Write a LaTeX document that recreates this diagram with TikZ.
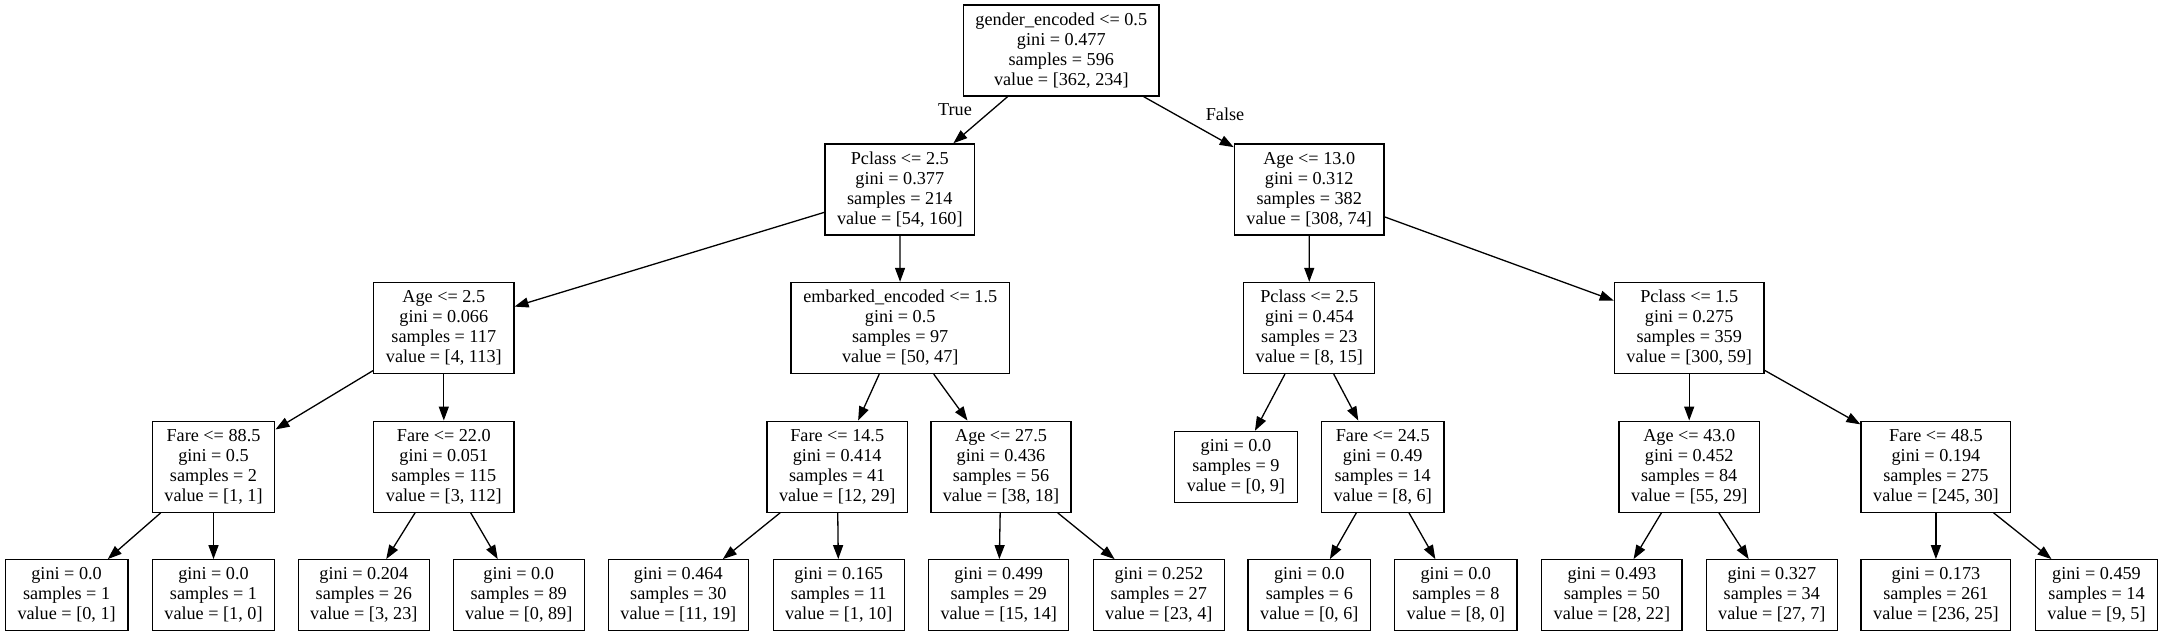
\documentclass[tikz,border=0pt]{standalone}
\usepackage{fontspec}
\setmainfont{Liberation Serif}
\usetikzlibrary{arrows.meta}
\begin{document}
\begin{tikzpicture}[x=1pt,y=-1pt,
  box/.style={draw=black, line width=1.3pt, rectangle, inner sep=0pt, align=center,
    font=\fontsize{18.2}{20}\selectfont, minimum height=91pt},
  leaf/.style={box, minimum height=70.7pt},
  wA/.style={minimum width=122.6pt},
  wB/.style={minimum width=131pt},
  wC/.style={minimum width=140.2pt},
  wD/.style={minimum width=149.7pt},
  conn/.style={draw=black, line width=1.3pt, -{Triangle[length=14pt,width=10pt]}},
  lbl/.style={font=\fontsize{18.2}{20}\selectfont, inner sep=0pt}]
\useasboundingbox (0,0) rectangle (2163,636);
% level 0
\node[box, minimum width=195.3pt] (root) at (1061.3,50.5) {gender\_encoded <= 0.5\\gini = 0.477\\samples = 596\\value = [362, 234]};
% level 1
\node[box, wD] (n1) at (899.8,189.4) {Pclass <= 2.5\\gini = 0.377\\samples = 214\\value = [54, 160]};
\node[box, wD] (n2) at (1309.2,189.4) {Age <= 13.0\\gini = 0.312\\samples = 382\\value = [308, 74]};
% level 2
\node[box, wC] (n3) at (443.8,328) {Age <= 2.5\\gini = 0.066\\samples = 117\\value = [4, 113]};
\node[box, minimum width=218.3pt] (n4) at (900.2,328) {embarked\_encoded <= 1.5\\gini = 0.5\\samples = 97\\value = [50, 47]};
\node[box, wB] (n5) at (1309.3,328) {Pclass <= 2.5\\gini = 0.454\\samples = 23\\value = [8, 15]};
\node[box, wD] (n6) at (1689.2,328) {Pclass <= 1.5\\gini = 0.275\\samples = 359\\value = [300, 59]};
% level 3
\node[box, wA] (n7) at (213.5,466.7) {Fare <= 88.5\\gini = 0.5\\samples = 2\\value = [1, 1]};
\node[box, wC] (n8) at (443.8,466.7) {Fare <= 22.0\\gini = 0.051\\samples = 115\\value = [3, 112]};
\node[box, wC] (n9) at (837.2,466.7) {Fare <= 14.5\\gini = 0.414\\samples = 41\\value = [12, 29]};
\node[box, wC] (n10) at (1001,466.7) {Age <= 27.5\\gini = 0.436\\samples = 56\\value = [38, 18]};
\node[leaf, wA] (n11) at (1235.9,466.8) {gini = 0.0\\samples = 9\\value = [0, 9]};
\node[box, wA] (n12) at (1382.7,466.7) {Fare <= 24.5\\gini = 0.49\\samples = 14\\value = [8, 6]};
\node[box, wC] (n13) at (1689.2,466.7) {Age <= 43.0\\gini = 0.452\\samples = 84\\value = [55, 29]};
\node[box, wD] (n14) at (1935.9,466.7) {Fare <= 48.5\\gini = 0.194\\samples = 275\\value = [245, 30]};
% level 4
\node[leaf, wA] (l1) at (66.6,595.1) {gini = 0.0\\samples = 1\\value = [0, 1]};
\node[leaf, wA] (l2) at (213.5,595.1) {gini = 0.0\\samples = 1\\value = [1, 0]};
\node[leaf, wB] (l3) at (363.8,595.1) {gini = 0.204\\samples = 26\\value = [3, 23]};
\node[leaf, wB] (l4) at (518.7,595.1) {gini = 0.0\\samples = 89\\value = [0, 89]};
\node[leaf, wC] (l5) at (678.3,595.1) {gini = 0.464\\samples = 30\\value = [11, 19]};
\node[leaf, wB] (l6) at (838.7,595.1) {gini = 0.165\\samples = 11\\value = [1, 10]};
\node[leaf, wC] (l7) at (998.7,595.1) {gini = 0.499\\samples = 29\\value = [15, 14]};
\node[leaf, wB] (l8) at (1158.8,595.1) {gini = 0.252\\samples = 27\\value = [23, 4]};
\node[leaf, wA] (l9) at (1309.3,595.1) {gini = 0.0\\samples = 6\\value = [0, 6]};
\node[leaf, wA] (l10) at (1455.8,595.1) {gini = 0.0\\samples = 8\\value = [8, 0]};
\node[leaf, wC] (l11) at (1611.9,595.1) {gini = 0.493\\samples = 50\\value = [28, 22]};
\node[leaf, wB] (l12) at (1771.8,595.1) {gini = 0.327\\samples = 34\\value = [27, 7]};
\node[leaf, wD] (l13) at (1935.9,595.1) {gini = 0.173\\samples = 261\\value = [236, 25]};
\node[leaf, wA] (l14) at (2096.5,595.1) {gini = 0.459\\samples = 14\\value = [9, 5]};
% edge labels
\node[lbl] (tlab) at (955,109.3) {True};
\node[lbl] (flab) at (1225,114.3) {False};
% connectors
\draw[conn] (root) -- (n1);
\draw[conn] (root) -- (n2);
\draw[conn] (n1) -- (n3);
\draw[conn] (n1) -- (n4);
\draw[conn] (n2) -- (n5);
\draw[conn] (n2) -- (n6);
\draw[conn] (n3) -- (n7);
\draw[conn] (n3) -- (n8);
\draw[conn] (n4) -- (n9);
\draw[conn] (n4) -- (n10);
\draw[conn] (n5) -- (n11);
\draw[conn] (n5) -- (n12);
\draw[conn] (n6) -- (n13);
\draw[conn] (n6) -- (n14);
\draw[conn] (n7) -- (l1);
\draw[conn] (n7) -- (l2);
\draw[conn] (n8) -- (l3);
\draw[conn] (n8) -- (l4);
\draw[conn] (n9) -- (l5);
\draw[conn] (n9) -- (l6);
\draw[conn] (n10) -- (l7);
\draw[conn] (n10) -- (l8);
\draw[conn] (n12) -- (l9);
\draw[conn] (n12) -- (l10);
\draw[conn] (n13) -- (l11);
\draw[conn] (n13) -- (l12);
\draw[conn] (n14) -- (l13);
\draw[conn] (n14) -- (l14);
\end{tikzpicture}
\end{document}
